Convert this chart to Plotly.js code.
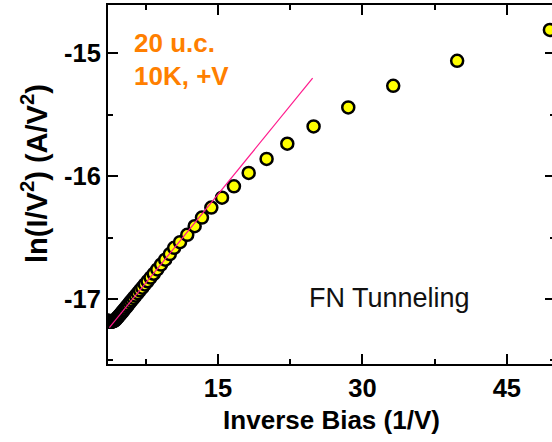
<!DOCTYPE html>
<html>
<head>
<meta charset="utf-8">
<script src="https://cdn.plot.ly/plotly-3.0.1.min.js"></script>
<style>
html,body{margin:0;padding:0;overflow:hidden;background:#fff;width:552px;height:442px;}
#chart{width:556px;height:442px;}
</style>
</head>
<body>
<div id="chart"></div>
<script>
// Inverse bias (1/V) and ln(I/V^2)
var inverseBias = [3.57, 3.64, 3.70, 3.77, 3.85, 3.92, 4.00, 4.08, 4.17, 4.26,
  4.35, 4.44, 4.55, 4.65, 4.76, 4.88, 5.00, 5.13, 5.26, 5.41,
  5.56, 5.71, 5.88, 6.06, 6.25, 6.45, 6.67, 6.90, 7.14, 7.41,
  7.69, 8.00, 8.33, 8.70, 9.09, 9.52, 10.00, 10.45, 11.06, 11.81,
  12.58, 13.34, 14.31, 15.42, 16.66, 18.19, 20.05, 22.2, 24.93, 28.53,
  33.2, 39.84, 49.47];
var lnIV2 = [-17.176, -17.18, -17.183, -17.185, -17.186, -17.186, -17.185, -17.183, -17.18, -17.176,
  -17.17, -17.162, -17.153, -17.144, -17.134, -17.123, -17.112, -17.099, -17.087, -17.072,
  -17.058, -17.044, -17.027, -17.01, -16.992, -16.973, -16.952, -16.93, -16.908, -16.882,
  -16.856, -16.826, -16.795, -16.76, -16.72, -16.68, -16.635, -16.584, -16.538, -16.478,
  -16.408, -16.337, -16.256, -16.175, -16.083, -15.974, -15.86, -15.736, -15.595, -15.44,
  -15.264, -15.061, -14.809];
// FN fit line end points
var fitX = [3.72, 24.83];
var fitY = [-17.234, -15.202];
var xTickVals = [15, 30, 45];
var yTickVals = [-17, -16, -15];
var yTickText = ["-17", "-16", "-15"];
var labelLines = ["20 u.c.", "10K, +V"];
var regimeLabel = "FN Tunneling";
var yTitleText = "ln(I/V<sup>2</sup>) (A/V<sup>2</sup>)";

var fam = "Liberation Sans, Arial, sans-serif";
var tickFont = {family: fam, size: 25.5, color: "#000", weight: "bold"};
var titleFont = {family: fam, size: 26, color: "#000", weight: "bold"};

var traces = [
  {x: inverseBias, y: lnIV2, mode: "markers", type: "scatter",
   marker: {color: "#ffff00", size: 12, line: {color: "#000", width: 2.5}},
   hoverinfo: "skip", showlegend: false},
  {x: fitX, y: fitY, mode: "lines", type: "scatter",
   line: {color: "#ff1a8c", width: 1.2}, hoverinfo: "skip", showlegend: false}
];

var layout = {
  width: 556, height: 442,
  margin: {l: 108, r: 1, t: 5, b: 78},
  paper_bgcolor: "#fff", plot_bgcolor: "#fff",
  showlegend: false,
  xaxis: {
    range: [3.58, 50.0], tickvals: xTickVals, ticktext: xTickVals.map(String),
    ticks: "inside", ticklen: 10, tickwidth: 2, tickcolor: "#000",
    minor: {tickvals: [7.5, 22.5, 37.5], ticks: "inside", ticklen: 5, tickwidth: 2, tickcolor: "#000"},
    showline: true, linewidth: 2, linecolor: "#000", mirror: "ticks",
    showgrid: false, zeroline: false, tickfont: tickFont,
    title: {text: "Inverse Bias (1/V)", font: titleFont, standoff: 10}
  },
  yaxis: {
    range: [-17.53, -14.606], tickvals: yTickVals, ticktext: yTickText,
    ticks: "inside", ticklen: 10, tickwidth: 2, tickcolor: "#000",
    minor: {tickvals: [-17.5, -16.5, -15.5], ticks: "inside", ticklen: 5, tickwidth: 2, tickcolor: "#000"},
    showline: true, linewidth: 2, linecolor: "#000", mirror: "ticks",
    showgrid: false, zeroline: false, tickfont: tickFont
  },
  annotations: [
    {xref: "paper", yref: "paper", x: -0.165, y: 0.53, xanchor: "center", yanchor: "middle",
     text: yTitleText, textangle: -90, showarrow: false,
     font: {family: fam, size: 29, color: "#000", weight: "bold"}},
    {xref: "paper", yref: "paper", x: 0.053, y: 0.8955, xanchor: "left", yanchor: "middle",
     text: labelLines[0], showarrow: false,
     font: {family: fam, size: 26, color: "#ff7f00", weight: "bold"}},
    {xref: "paper", yref: "paper", x: 0.053, y: 0.802, xanchor: "left", yanchor: "middle",
     text: labelLines[1], showarrow: false,
     font: {family: fam, size: 26, color: "#ff7f00", weight: "bold"}},
    {xref: "paper", yref: "paper", x: 0.445, y: 0.185, xanchor: "left", yanchor: "middle",
     text: regimeLabel, showarrow: false,
     font: {family: fam, size: 27, color: "#111"}}
  ]
};

Plotly.newPlot("chart", traces, layout, {staticPlot: true, displayModeBar: false});
</script>
</body>
</html>
